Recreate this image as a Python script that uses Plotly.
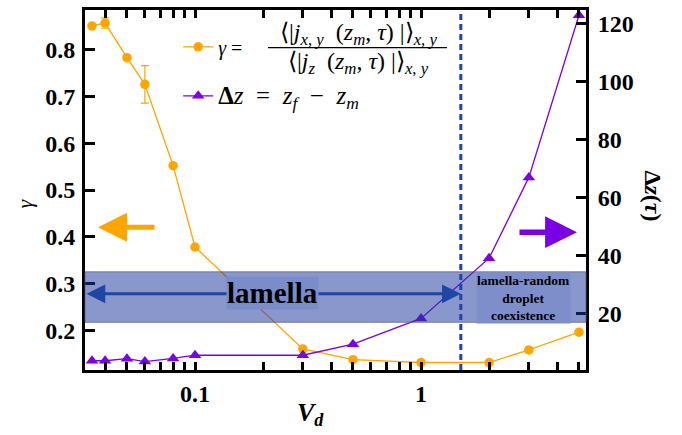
import numpy as np
import plotly.graph_objects as go

# Driving velocity V_d (log axis)
vd = [0.035, 0.04, 0.05, 0.06, 0.08, 0.1, 0.3, 0.5, 1, 2, 3, 5]
# In-plane / normal current ratio gamma
gamma = [0.851, 0.857, 0.783, 0.726, 0.552, 0.378, 0.160, 0.137, 0.131, 0.131, 0.158, 0.196]
gamma_err = [0, 0.011, 0, 0.04, 0, 0, 0, 0, 0, 0, 0, 0]
# Interface displacement Delta z(tau)
dz = [3.7, 3.7, 4.4, 3.4, 4.5, 5.6, 5.6, 9.4, 18.3, 39.1, 67.0, 123.0]

# Regime boundary and the lamella band on the gamma scale
vd_transition = 1.5
band_lo, band_hi = 0.217, 0.325
band_arrow_y = 0.278

x_range = [np.log10(0.0326), np.log10(5.37)]
y_range = [0.115, 0.885]
y2_range = [0.5, 124.8]

x_major = [0.1, 1]
x_minor = [0.04, 0.05, 0.06, 0.07, 0.08, 0.09,
           0.2, 0.3, 0.4, 0.5, 0.6, 0.7, 0.8, 0.9, 2, 3, 4, 5]

ORANGE = "#ffa500"
PURPLE = "#7a00e6"
DARKBLUE = "#1f45a5"
SERIF = "Liberation Serif, Times New Roman, serif"

# plot-area geometry in pixels, used to place free text
L, R, T, B = 85, 96, 7, 65
W, H = 682, 435
PW, PH = W - L - R, H - T - B


def px(xp):
    return (xp - L) / PW


def py(yp):
    return (H - B - yp) / PH


ES = "\u2002"   # en space
XY = "<sub><i>x</i>, <i>y</i></sub>"

fig = go.Figure()

fig.add_trace(go.Scatter(
    x=vd, y=gamma, mode="lines+markers", yaxis="y",
    line=dict(color=ORANGE, width=1.3),
    marker=dict(color=ORANGE, size=9.5, symbol="circle"),
    error_y=dict(type="data", array=gamma_err, color=ORANGE, thickness=1.2, width=4),
    name="<i>γ</i> =", legendgroup="g1",
))
fig.add_trace(go.Scatter(
    x=vd, y=dz, mode="lines+markers", yaxis="y2",
    line=dict(color=PURPLE, width=1.3),
    marker=dict(color=PURPLE, size=11, symbol="triangle-up"),
    name=("<span style='font-size:25px'><b>Δ</b><i>z</i>" + ES + "=" + ES
          + "<i>z</i><sub><i>f</i></sub>" + ES + "−" + ES + "<i>z</i><sub><i>m</i></sub></span>"),
    legendgroup="g2",
))
# carrier for the top (mirror) axis so its ticks are drawn
fig.add_trace(go.Scatter(
    x=vd, y=gamma, xaxis="x2", yaxis="y", mode="markers",
    marker=dict(opacity=0), hoverinfo="skip", showlegend=False,
))

axis_common = dict(
    showline=True, linecolor="black", linewidth=3,
    showgrid=False, zeroline=False,
    ticks="inside", tickcolor="black", tickwidth=3,
    tickfont=dict(family=SERIF, size=24, color="black", weight="bold"),
)
minor_ticks = dict(ticks="inside", ticklen=5, tickwidth=2.5, tickcolor="black",
                   showgrid=False, tickvals=x_minor)

fig.update_layout(
    width=W, height=H,
    margin=dict(l=L, r=R, t=T, b=B),
    paper_bgcolor="white", plot_bgcolor="white",
    showlegend=True,
    legend=dict(
        x=0.186, y=0.952, xanchor="left", yanchor="top",
        bgcolor="rgba(0,0,0,0)", itemwidth=30,
        traceorder="grouped", tracegroupgap=20,
        font=dict(family=SERIF, size=20, color="black"),
    ),
    xaxis=dict(
        type="log", range=x_range, mirror="allticks",
        tickvals=x_major, ticktext=["0.1", "1"], ticklen=8,
        minor=minor_ticks, ticklabelstandoff=0,
        **axis_common,
    ),
    xaxis2=dict(
        type="log", range=x_range, overlaying="x", side="top", anchor="y",
        tickvals=x_major, ticklen=8, showticklabels=False,
        minor=minor_ticks,
        **axis_common,
    ),
    yaxis=dict(
        range=y_range, tickmode="array",
        tickvals=[0.2, 0.3, 0.4, 0.5, 0.6, 0.7, 0.8],
        ticktext=["0.2", "0.3", "0.4", "0.5", "0.6", "0.7", "0.8"],
        ticklen=10, ticklabelstandoff=2,
        **axis_common,
    ),
    yaxis2=dict(
        range=y2_range, overlaying="y", side="right", anchor="x",
        tickvals=[20, 40, 60, 80, 100, 120], ticklen=10, ticklabelstandoff=4,
        **axis_common,
    ),
)

# Lamella regime band and the regime boundary
fig.add_shape(type="rect", xref="x domain", yref="y", x0=0, x1=1, y0=band_lo, y1=band_hi,
              fillcolor="rgba(30,55,160,0.52)", line=dict(color="rgba(90,90,120,0.7)", width=1),
              layer="above")
fig.add_shape(type="line", xref="x", yref="y domain",
              x0=vd_transition, x1=vd_transition, y0=0, y1=1,
              line=dict(color=DARKBLUE, width=3, dash="6px,4px"), layer="above")

# Fraction bar for the gamma legend label
fig.add_shape(type="line", xref="paper", yref="paper", x0=px(268), x1=px(447), y0=py(45), y1=py(45),
              line=dict(color="black", width=1.3))

num = ("⟨|<i>j</i>" + XY + ES + "(<i>z</i><sub><i>m</i></sub>, <i>τ</i>) |⟩" + XY)
den = ("⟨|<i>j</i><sub><i>z</i></sub>" + ES + "(<i>z</i><sub><i>m</i></sub>, <i>τ</i>) |⟩" + XY)
ann_font = dict(family=SERIF, size=24, color="black")
fig.add_annotation(x=px(358), y=py(31), xref="paper", yref="paper", text=num, showarrow=False,
                   font=ann_font, xanchor="center", yanchor="middle")
fig.add_annotation(x=px(358), y=py(60), xref="paper", yref="paper", text=den, showarrow=False,
                   font=ann_font, xanchor="center", yanchor="middle")

# Double arrow spanning the lamella regime
fig.add_annotation(x=np.log10(vd_transition), y=band_arrow_y, xref="x", yref="y",
                   ax=x_range[0], ay=band_arrow_y, axref="x", ayref="y",
                   text="", showarrow=True, arrowhead=2, startarrowhead=2,
                   arrowside="end+start", arrowsize=1.25, startarrowsize=1.25,
                   arrowwidth=3, arrowcolor=DARKBLUE)
fig.add_annotation(x=px(272), y=py(292), xref="paper", yref="paper", text="<b>lamella</b>",
                   xanchor="center", yanchor="middle",
                   showarrow=False, font=dict(family=SERIF, size=29, color="black"),
                   bgcolor="rgba(122,140,201,1)", borderpad=0)
fig.add_annotation(x=px(523), y=py(297), xref="paper", yref="paper",
                   text="<b>lamella-random<br>droplet<br>coexistence</b>",
                   xanchor="center", yanchor="middle",
                   showarrow=False, font=dict(family=SERIF, size=13.5, color="black"),
                   bgcolor="rgba(125,142,202,1)", borderpad=0)

# Axis-pointer arrows
fig.add_annotation(x=px(98), y=py(226), xref="paper", yref="paper", ax=58, ay=0,
                   text="", showarrow=True, arrowhead=2, arrowsize=1.16, arrowwidth=5,
                   arrowcolor=ORANGE)
fig.add_annotation(x=px(577), y=py(231), xref="paper", yref="paper", ax=-59, ay=0,
                   text="", showarrow=True, arrowhead=2, arrowsize=1.16, arrowwidth=5.5,
                   arrowcolor=PURPLE)

# Axis titles
fig.add_annotation(x=px(24), y=py(202), xref="paper", yref="paper", text="<i>γ</i>",
                   xanchor="center", yanchor="middle", showarrow=False,
                   font=dict(family=SERIF, size=22, color="black"), textangle=-90)
fig.add_annotation(x=px(310), y=py(414), xref="paper", yref="paper",
                   text="<b><i>V</i></b><sub><b><i>d</i></b></sub>", showarrow=False,
                   xanchor="center", yanchor="middle",
                   font=dict(family=SERIF, size=26, color="black"))
fig.add_annotation(x=px(653), y=py(194), xref="paper", yref="paper",
                   text="<b>Δ<i>z</i>(<i>τ</i>)</b>", showarrow=False,
                   xanchor="center", yanchor="middle",
                   font=dict(family=SERIF, size=24, color="black"), textangle=90)

fig.write_html("out.html")
